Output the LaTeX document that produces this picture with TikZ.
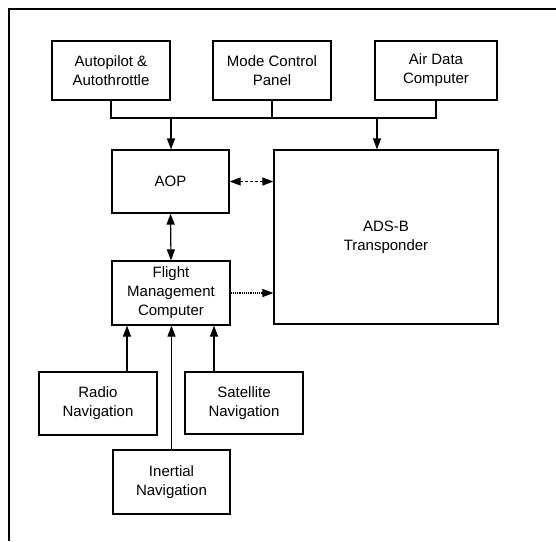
\documentclass[tikz,border=0pt]{standalone}
\usepackage{fontspec}
\setmainfont{Liberation Sans}
\usetikzlibrary{arrows.meta}
\begin{document}
\begin{tikzpicture}[x=1pt,y=-1pt,
  box/.style={draw, line width=1.2pt, minimum width=118pt, minimum height=62pt, inner sep=0pt, align=center, font=\fontsize{15}{19}\selectfont},
  conn/.style={line width=1.2pt},
  tip/.tip={Triangle[length=11pt,width=8pt]},
  arr/.style={conn, -tip},
  darr/.style={conn, tip-tip},
  line cap=butt]
\useasboundingbox (0,0) rectangle (556,541);
% outer frame (top and left edges)
\draw[line width=1.2pt] (556,9) -- (9,9) -- (9,541);
% top row
\node[box, minimum height=59pt] (ap) at (111,70.5) {Autopilot \&\\Autothrottle};
\node[box, minimum height=59pt] (mcp) at (272,70.5) {Mode Control\\Panel};
\node[box, minimum height=59pt, minimum width=122pt] (adc) at (436,70.5) {Air Data\\Computer};
% middle
\node[box, minimum width=117pt, minimum height=63pt] (aop) at (170.5,181.5) {AOP};
\node[box, minimum width=224pt, minimum height=174pt] (ads) at (386,237) {ADS-B\\Transponder};
\node[box, minimum height=64pt] (fmc) at (171,293) {Flight\\Management\\Computer};
% bottom
\node[box, minimum height=63pt] (radio) at (98,403.5) {Radio\\Navigation};
\node[box] (sat) at (244,403) {Satellite\\Navigation};
\node[box, minimum width=117pt, minimum height=64pt] (ins) at (171.5,482) {Inertial\\Navigation};
% bus
\coordinate (busL) at (111,118);
\coordinate (busM) at (272,118);
\coordinate (busR) at (436,118);
\coordinate (tapA) at (171,118);
\coordinate (tapB) at (377,118);
\draw[conn] (ap.south) -- (busL) -- (busR) -- (adc.south);
\draw[conn] (mcp.south) -- (busM);
\draw[arr] (tapA) -- (tapA |- aop.north);
\draw[arr] (tapB) -- (tapB |- ads.north);
% AOP <-> ADS-B
\draw[darr, densely dashed] (aop.east) -- (aop.east -| ads.west);
% AOP <-> FMC
\draw[darr] (aop.south) -- (fmc.north);
% FMC -> ADS-B
\draw[arr, densely dotted] (fmc.east) -- (fmc.east -| ads.west);
% navigation inputs
\coordinate (rx) at (127,0);
\coordinate (sx) at (214,0);
\draw[arr] (radio.north -| rx) -- (fmc.south -| rx);
\draw[arr] (sat.north -| sx) -- (fmc.south -| sx);
\draw[arr] (ins.north) -- (ins.north |- fmc.south);
\end{tikzpicture}
\end{document}
